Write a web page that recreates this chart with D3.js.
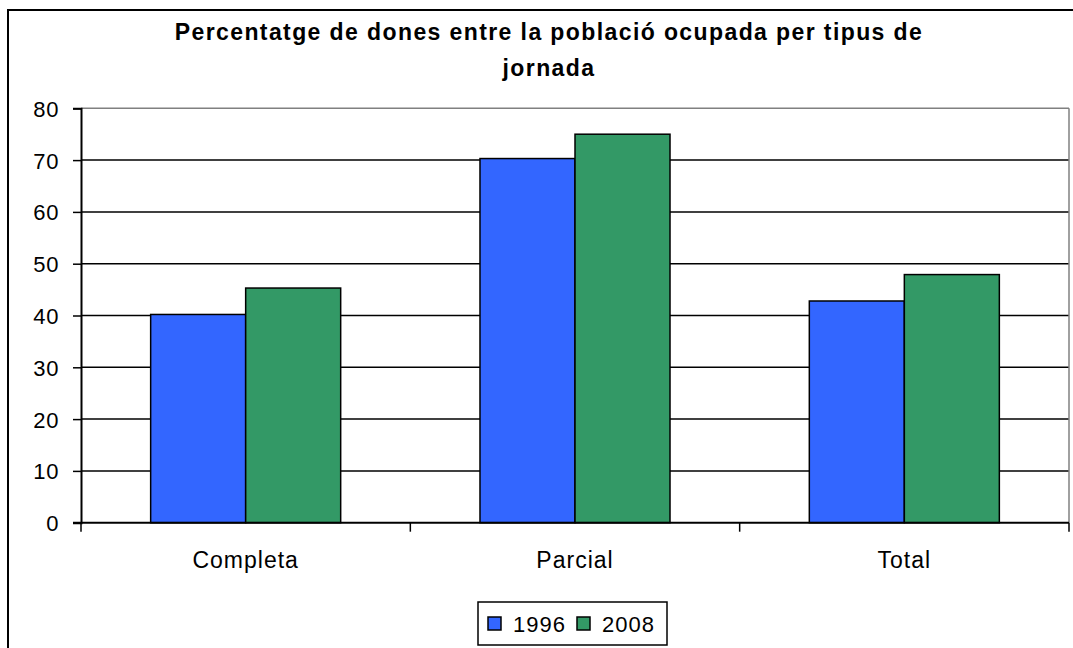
<!DOCTYPE html>
<html>
<head>
<meta charset="utf-8">
<script src="https://cdn.jsdelivr.net/npm/d3@7"></script>
<style>
  body { margin: 0; background: #fff; }
  text { font-family: "Liberation Sans", Arial, sans-serif; fill: #000; }
</style>
</head>
<body>
<svg id="chart" width="1073" height="648"></svg>
<script>
var categories = ["Completa", "Parcial", "Total"];
var seriesNames = ["1996", "2008"];
var values1996 = [40.2, 70.3, 42.8];
var values2008 = [45.3, 75.0, 47.9];
var yTicks = [0, 10, 20, 30, 40, 50, 60, 70, 80];
var titleLines = ["Percentatge de dones entre la població ocupada per tipus de", "jornada"];
var colors = ["#3366ff", "#339966"];

var svg = d3.select("#chart");
var MARGINS = { top: 108.3, right: 4, bottom: 125.3, left: 81 };
var WIDTH = 1073, HEIGHT = 648;

// outer chart border (runs off the right and bottom of the picture)
svg.append("rect")
  .attr("x", 8).attr("y", 10)
  .attr("width", 1100).attr("height", 700)
  .attr("fill", "#fff").attr("stroke", "#000").attr("stroke-width", 2);

var x = d3.scaleBand()
  .domain(categories)
  .range([MARGINS.left, WIDTH - MARGINS.right])
  .paddingInner(0.423).paddingOuter(0.2115);

var xSeries = d3.scaleBand()
  .domain(seriesNames)
  .range([0, x.bandwidth()]);

var y = d3.scaleLinear()
  .domain([0, 80])
  .range([HEIGHT - MARGINS.bottom, MARGINS.top]);

// gridlines
svg.append("g")
  .selectAll("line")
  .data(yTicks.slice(1))
  .enter().append("line")
  .attr("x1", MARGINS.left).attr("x2", WIDTH - MARGINS.right)
  .attr("y1", function (d) { return y(d); })
  .attr("y2", function (d) { return y(d); })
  .attr("stroke", function (d) { return d === 80 ? "#808080" : "#000"; })
  .attr("stroke-width", 1.5);

// plot right edge
svg.append("line")
  .attr("x1", WIDTH - MARGINS.right).attr("x2", WIDTH - MARGINS.right)
  .attr("y1", y(80)).attr("y2", y(0))
  .attr("stroke", "#808080").attr("stroke-width", 1.5);

// bars
var rows = categories.map(function (c, i) {
  return { cat: c, vals: [values1996[i], values2008[i]] };
});
var groups = svg.append("g").selectAll("g")
  .data(rows).enter().append("g")
  .attr("transform", function (d) { return "translate(" + x(d.cat) + ",0)"; });

groups.selectAll("rect")
  .data(function (d) {
    return d.vals.map(function (v, j) { return { s: seriesNames[j], v: v, j: j }; });
  })
  .enter().append("rect")
  .attr("x", function (d) { return xSeries(d.s); })
  .attr("y", function (d) { return y(d.v); })
  .attr("width", xSeries.bandwidth())
  .attr("height", function (d) { return y(0) - y(d.v); })
  .attr("fill", function (d) { return colors[d.j]; })
  .attr("stroke", "#000").attr("stroke-width", 1.5);

// y axis
var yAxis = d3.axisLeft(y).tickValues(yTicks).tickSize(8).tickPadding(10);
var yg = svg.append("g")
  .attr("transform", "translate(" + MARGINS.left + ",0)")
  .call(yAxis);
yg.select(".domain").attr("stroke", "#000").attr("stroke-width", 2);
yg.selectAll(".tick line").attr("stroke", "#000").attr("stroke-width", 1.5);
yg.selectAll(".tick text")
  .style("font-size", "22px").attr("letter-spacing", "0.6px")
  .attr("dy", "0.36em").attr("x", -22);

// x axis: baseline with ticks between categories
var step = x.step();
var bounds = categories.map(function (c) { return x(c) - step * x.paddingInner() / 2; });
bounds.push(WIDTH - MARGINS.right);
svg.append("line")
  .attr("x1", MARGINS.left - 8).attr("x2", WIDTH - MARGINS.right)
  .attr("y1", y(0)).attr("y2", y(0))
  .attr("stroke", "#000").attr("stroke-width", 2);
svg.append("g").selectAll("line")
  .data(bounds).enter().append("line")
  .attr("x1", function (d) { return d; }).attr("x2", function (d) { return d; })
  .attr("y1", y(0)).attr("y2", y(0) + 9)
  .attr("stroke", "#000").attr("stroke-width", 1.5);

svg.append("g").selectAll("text")
  .data(categories).enter().append("text")
  .attr("x", function (d) { return x(d) + x.bandwidth() / 2; })
  .attr("y", 568)
  .attr("text-anchor", "middle")
  .attr("letter-spacing", "1px")
  .style("font-size", "23px")
  .text(function (d) { return d; });

// title
svg.append("g").selectAll("text")
  .data(titleLines).enter().append("text")
  .attr("x", 549)
  .attr("y", function (d, i) { return 40 + i * 36; })
  .attr("text-anchor", "middle")
  .attr("letter-spacing", "1.4px")
  .style("font-size", "23px").style("font-weight", "bold")
  .text(function (d) { return d; });

// legend
var legend = svg.append("g");
legend.append("rect")
  .attr("x", 478).attr("y", 602).attr("width", 189).attr("height", 43)
  .attr("fill", "#fff").attr("stroke", "#000").attr("stroke-width", 1.5);
var li = legend.selectAll("g.item").data(seriesNames).enter().append("g")
  .attr("class", "item")
  .attr("transform", function (d, i) { return "translate(" + (488 + i * 89) + ",617)"; });
li.append("rect")
  .attr("width", 13).attr("height", 13)
  .attr("fill", function (d, i) { return colors[i]; })
  .attr("stroke", "#000").attr("stroke-width", 1.5);
li.append("text")
  .attr("x", 25).attr("y", 15)
  .attr("letter-spacing", "1px")
  .style("font-size", "22px")
  .text(function (d) { return d; });
</script>
</body>
</html>
